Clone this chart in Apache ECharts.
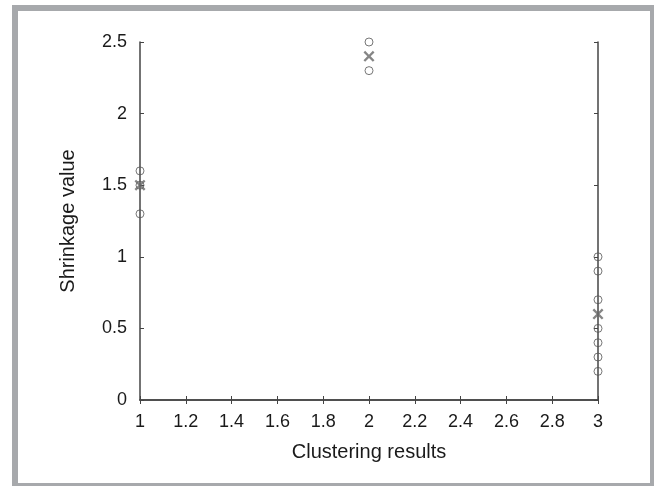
<!DOCTYPE html>
<html>
<head>
<meta charset="utf-8">
<script src="https://cdn.jsdelivr.net/npm/echarts@6/dist/echarts.min.js"></script>
<style>
html,body{margin:0;padding:0;background:#fff;}
#c{width:654px;height:486px;}
</style>
</head>
<body>
<div id="c"></div>
<script>
// Data
const clusterX = [1, 2, 3];
const cluster1Values = [1.6, 1.5, 1.3];
const cluster2Values = [2.5, 2.3];
const cluster3Values = [1.0, 0.9, 0.7, 0.5, 0.4, 0.3, 0.2];
const centroidValues = [1.5, 2.4, 0.6];
const xTickMin = 1, xTickMax = 3, xTickStep = 0.2;
const yTickMin = 0, yTickMax = 2.5, yTickStep = 0.5;

const pointData = [];
[cluster1Values, cluster2Values, cluster3Values].forEach((vals, i) => {
  vals.forEach(v => pointData.push([clusterX[i], v]));
});
const centroidData = clusterX.map((x, i) => [x, centroidValues[i]]);

const chart = echarts.init(document.getElementById('c'));
const font = 'Liberation Sans, Arial, sans-serif';
const axisColor = '#444';
const xShape = 'path://M0,1.5 L1.5,0 L5,3.5 L8.5,0 L10,1.5 L6.5,5 L10,8.5 L8.5,10 L5,6.5 L1.5,10 L0,8.5 L3.5,5 Z';

chart.setOption({
  animation: false,
  backgroundColor: '#fff',
  graphic: [{
    type: 'rect',
    shape: {x: 15, y: 8, width: 638, height: 478},
    style: {fill: 'none', stroke: '#a7a9ac', lineWidth: 6},
    silent: true
  }],
  grid: {left: 140, right: 56, top: 42, bottom: 86},
  xAxis: [{
    type: 'value', min: xTickMin, max: xTickMax, interval: xTickStep,
    name: 'Clustering results', nameLocation: 'middle', nameGap: 42,
    nameTextStyle: {fontFamily: font, fontSize: 20, color: '#1a1a1a'},
    axisLine: {lineStyle: {color: axisColor, width: 1.5}},
    axisTick: {inside: true, length: 4, lineStyle: {color: axisColor}},
    axisLabel: {fontFamily: font, fontSize: 18, color: '#1a1a1a', margin: 13,
      formatter: v => String(Math.round(v * 10) / 10)},
    splitLine: {show: false}
  }, {
    type: 'value', position: 'top', min: xTickMin, max: xTickMax, interval: xTickStep,
    axisLine: {lineStyle: {color: axisColor, width: 1.5}},
    axisTick: {inside: true, length: 4, lineStyle: {color: axisColor}},
    axisLabel: {show: false}, splitLine: {show: false}
  }],
  yAxis: [{
    type: 'value', min: yTickMin, max: yTickMax, interval: yTickStep,
    name: 'Shrinkage value', nameLocation: 'middle', nameGap: 62,
    nameTextStyle: {fontFamily: font, fontSize: 20, color: '#1a1a1a'},
    axisLine: {show: true, lineStyle: {color: axisColor, width: 1.5}},
    axisTick: {show: true, inside: true, length: 4, lineStyle: {color: axisColor}},
    axisLabel: {fontFamily: font, fontSize: 18, color: '#1a1a1a', margin: 13,
      formatter: v => String(Math.round(v * 10) / 10)},
    splitLine: {show: false}
  }, {
    type: 'value', position: 'right', min: yTickMin, max: yTickMax, interval: yTickStep,
    axisLine: {show: true, lineStyle: {color: axisColor, width: 1.5}},
    axisTick: {show: true, inside: true, length: 4, lineStyle: {color: axisColor}},
    axisLabel: {show: false}, splitLine: {show: false}
  }],
  series: [{
    type: 'scatter', data: pointData, symbol: 'circle', symbolSize: 8,
    itemStyle: {color: 'rgba(255,255,255,0)', borderColor: '#555', borderWidth: 1},
    z: 3
  }, {
    type: 'scatter', data: centroidData, symbol: xShape, symbolSize: 11,
    itemStyle: {color: '#666'}, z: 4
  }]
});
</script>
</body>
</html>
